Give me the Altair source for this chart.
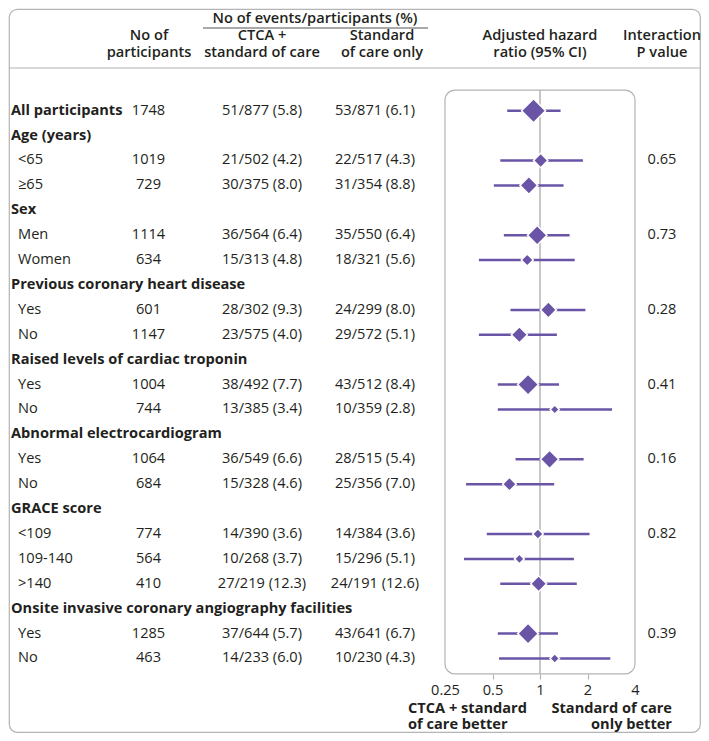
import altair as alt
import pandas as pd

# ---------------- data ----------------
labels = ["All participants", "Age (years)", "<65", "≥65", "Sex", "Men", "Women",
          "Previous coronary heart disease", "Yes", "No",
          "Raised levels of cardiac troponin", "Yes", "No",
          "Abnormal electrocardiogram", "Yes", "No",
          "GRACE score", "<109", "109-140", ">140",
          "Onsite invasive coronary angiography facilities", "Yes", "No"]
kinds = ["overall", "group", "sub", "sub", "group", "sub", "sub",
         "group", "sub", "sub", "group", "sub", "sub", "group", "sub", "sub",
         "group", "sub", "sub", "sub", "group", "sub", "sub"]

# one entry per estimate row (overall + 15 subgroups), in display order
n_participants = [1748, 1019, 729, 1114, 634, 601, 1147, 1004, 744, 1064, 684, 774, 564, 410, 1285, 463]
ctca_events = [51, 21, 30, 36, 15, 28, 23, 38, 13, 36, 15, 14, 10, 27, 37, 14]
ctca_total = [877, 502, 375, 564, 313, 302, 575, 492, 385, 549, 328, 390, 268, 219, 644, 233]
ctca_pct = [5.8, 4.2, 8.0, 6.4, 4.8, 9.3, 4.0, 7.7, 3.4, 6.6, 4.6, 3.6, 3.7, 12.3, 5.7, 6.0]
soc_events = [53, 22, 31, 35, 18, 24, 29, 43, 10, 28, 25, 14, 15, 24, 43, 10]
soc_total = [871, 517, 354, 550, 321, 299, 572, 512, 359, 515, 356, 384, 296, 191, 641, 230]
soc_pct = [6.1, 4.3, 8.8, 6.4, 5.6, 8.0, 5.1, 8.4, 2.8, 5.4, 7.0, 3.6, 5.1, 12.6, 6.7, 4.3]
hazard_ratio = [0.91, 1.01, 0.85, 0.96, 0.83, 1.13, 0.74, 0.84, 1.24, 1.15, 0.64, 0.97, 0.74, 0.98, 0.84, 1.24]
ci_low = [0.62, 0.56, 0.51, 0.59, 0.41, 0.65, 0.41, 0.54, 0.54, 0.70, 0.34, 0.46, 0.33, 0.56, 0.54, 0.55]
ci_high = [1.35, 1.87, 1.41, 1.54, 1.66, 1.94, 1.28, 1.32, 2.86, 1.89, 1.23, 2.06, 1.64, 1.71, 1.30, 2.79]
p_interaction = ["", "0.65", "", "0.73", "", "0.28", "", "0.41", "", "0.16", "", "0.82", "", "", "0.39", ""]
axis_ticks = [0.25, 0.5, 1, 2, 4]

# ---------------- tables ----------------
label_df = pd.DataFrame({"row": list(range(len(labels))), "label": labels, "kind": kinds})
est_rows = [i for i, k in enumerate(kinds) if k != "group"]
est = pd.DataFrame({
    "row": est_rows,
    "n": [str(v) for v in n_participants],
    "ctca": [f"{e}/{t} ({p:.1f})" for e, t, p in zip(ctca_events, ctca_total, ctca_pct)],
    "soc": [f"{e}/{t} ({p:.1f})" for e, t, p in zip(soc_events, soc_total, soc_pct)],
    "hr": hazard_ratio, "lo": ci_low, "hi": ci_high,
    "events": [a + b for a, b in zip(ctca_events, soc_events)],
    "p": p_interaction,
})
box_df = pd.DataFrame({"lo": [axis_ticks[0]], "hi": [axis_ticks[-1]], "top": [-0.83], "bot": [22.62]})
ref_df = pd.DataFrame({"x": [1.0], "top": [-0.83], "bot": [22.62]})

# ---------------- styling ----------------
W, H = 691, 723
FONT = "Open Sans"
TXT = "#231f20"
PURPLE = "#6a54a6"
GREY = "#b4b4b4"
FS = 14.6

ysc = alt.Scale(domain=[-4.084, 24.952], range=[0, H])
xsc = alt.Scale(type="log", base=2, domain=[axis_ticks[0], axis_ticks[-1]], range=[436, 626])
xaxis = alt.Axis(
    values=axis_ticks, format="~g", offset=-58, domain=False, grid=False,
    tickColor=GREY, tickSize=5, tickWidth=1.2, labelFont=FONT, labelFontSize=FS,
    labelColor=TXT, labelPadding=3, title=None, labelFlush=False,
    tickOpacity={"condition": {"test": "datum.value == 0.25 || datum.value == 4", "value": 0}, "value": 1},
)

def X(field):
    return alt.X(f"{field}:Q", scale=xsc, axis=xaxis)

def Y(field="row"):
    return alt.Y(f"{field}:Q", scale=ysc, axis=None)

def txt(text, x, y, align="center", weight="normal"):
    return alt.Chart(pd.DataFrame({"t": [text]})).mark_text(
        font=FONT, fontSize=FS, color=TXT, align=align, baseline="middle", fontWeight=weight
    ).encode(text="t:N", x=alt.value(x), y=alt.value(y))

def hline(x1, x2, y, color):
    return alt.Chart(pd.DataFrame({"a": [0]})).mark_rule(color=color, strokeWidth=1.2).encode(
        x=alt.value(x1), x2=alt.value(x2), y=alt.value(y))

# forest panel box
box = alt.Chart(box_df).mark_rect(
    fill="white", stroke=GREY, strokeWidth=1.2, cornerRadius=10
).encode(x=X("lo"), x2="hi:Q", y=Y("top"), y2="bot:Q")

ref_line = alt.Chart(ref_df).mark_rule(color=GREY, strokeWidth=1.5).encode(
    x=X("x"), y=Y("top"), y2="bot:Q")

ci = alt.Chart(est).mark_rule(color=PURPLE, strokeWidth=2.5).encode(
    x=X("lo"), x2="hi:Q", y=Y())

pts = alt.Chart(est).mark_point(
    shape="diamond", filled=True, color=PURPLE, stroke="white", strokeWidth=1.5, opacity=1
).encode(
    x=X("hr"), y=Y(),
    size=alt.Size("events:Q", scale=alt.Scale(domain=[24, 104], range=[90, 580], zero=False), legend=None),
)

base_txt = dict(font=FONT, fontSize=FS, color=TXT, baseline="middle")
titles = alt.Chart(label_df).transform_filter("datum.kind != 'sub'").mark_text(
    align="left", fontWeight="bold", x=2, **base_txt).encode(text="label:N", y=Y())
subs = alt.Chart(label_df).transform_filter("datum.kind == 'sub'").mark_text(
    align="left", x=9, **base_txt).encode(text="label:N", y=Y())
ncol = alt.Chart(est).mark_text(align="center", x=139.5, **base_txt).encode(text="n:N", y=Y())
ccol = alt.Chart(est).mark_text(align="center", x=253, **base_txt).encode(text="ctca:N", y=Y())
scol = alt.Chart(est).mark_text(align="center", x=366, **base_txt).encode(text="soc:N", y=Y())
pcol = alt.Chart(est).mark_text(align="center", x=653, **base_txt).encode(text="p:N", y=Y())

HW = 600
headers = [
    txt("No of events/participants (%)", 306, 10, weight=HW),
    hline(194, 419, 19, "#555555"),
    txt("No of", 140, 27, weight=HW), txt("participants", 140, 44, weight=HW),
    txt("CTCA +", 253, 27, weight=HW), txt("standard of care", 253, 44, weight=HW),
    txt("Standard", 373, 27, weight=HW), txt("of care only", 373, 44, weight=HW),
    txt("Adjusted hazard", 531, 27, weight=HW), txt("ratio (95% CI)", 531, 44, weight=HW),
    txt("Interaction", 653, 27, weight=HW), txt("P value", 653, 44, weight=HW),
    hline(0, W, 59, GREY),
    txt("CTCA + standard", 399, 700, align="left", weight="bold"),
    txt("of care better", 399, 716, align="left", weight="bold"),
    txt("Standard of care", 663, 700, align="right", weight="bold"),
    txt("only better", 663, 716, align="right", weight="bold"),
]

chart = alt.layer(
    box, ref_line, ci, pts, titles, subs, ncol, ccol, scol, pcol, *headers
).properties(
    width=W, height=H, padding=1, autosize="none", background="white"
).configure_view(
    stroke=GREY, strokeWidth=1.2, cornerRadius=8
)

chart.save("out.html", embed_options={"renderer": "svg", "actions": False})
